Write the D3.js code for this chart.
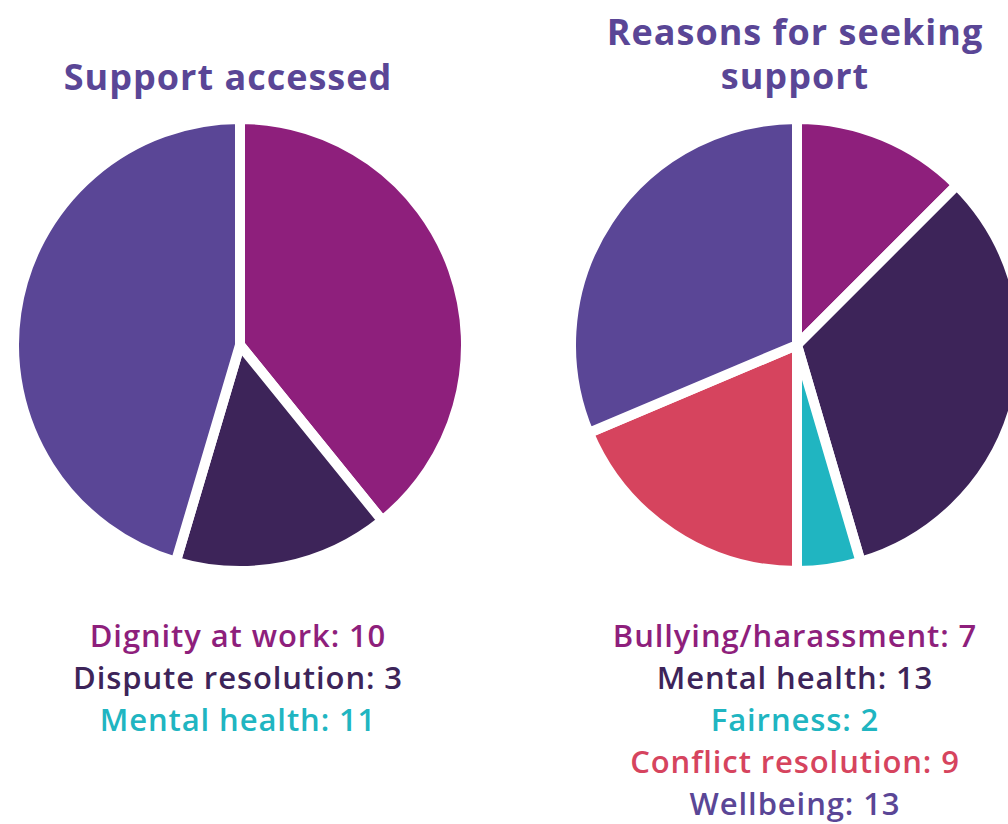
<!DOCTYPE html>
<html>
<head>
  <meta charset="UTF-8" />
  <title>Support pies</title>
  <script src="https://d3js.org/d3.v7.min.js"></script>
  <style>
    body { margin: 0; background: #fff; }
    text { font-family: "Open Sans", "Lato", sans-serif; }
  </style>
</head>
<body>
  <div id="chart"></div>
  <script>
    // left pie
    const accessedLabels = ["Dignity at work", "Dispute resolution", "Mental health"];
    const accessedValues = [10, 3, 11];
    // slice sizes as drawn in the picture (the drawn wedges don't quite follow the counts)
    const accessedSlices = [9.4, 3.7, 10.9];
    const accessedFill = ["#8E1F7C", "#3D2459", "#5A4696"];
    const accessedText = ["#8E1F7C", "#3D2459", "#20B5C1"];

    // right pie
    const reasonLabels = ["Bullying/harassment", "Mental health", "Fairness", "Conflict resolution", "Wellbeing"];
    const reasonValues = [7, 13, 2, 9, 13];
    const reasonSlices = [5.5, 14.5, 2, 8.2, 13.8];
    const reasonColors = ["#8E1F7C", "#3D2459", "#20B5C1", "#D6445E", "#5A4696"];

    const svg = d3.select("#chart")
      .append("svg")
      .attr("width", 1008)
      .attr("height", 824);

    const titleColor = "#5A4696";
    const R = 226;

    function drawPie(cx, cy, labels, values, slices, fills, textColors, titleLines, titleX, titleY, legendX, legendY) {
      const g = svg.append("g");
      const pie = d3.pie().sort(null).value(d => d);
      const arc = d3.arc().innerRadius(0).outerRadius(R);

      g.append("g")
        .attr("transform", "translate(" + cx + "," + cy + ")")
        .selectAll("path")
        .data(pie(slices))
        .enter()
        .append("path")
        .attr("d", arc)
        .attr("fill", (d, i) => fills[i])
        .attr("stroke", "#fff")
        .attr("stroke-width", 10)
        .attr("stroke-linejoin", "miter");

      g.selectAll(".title")
        .data(titleLines)
        .enter()
        .append("text")
        .attr("class", "title")
        .attr("x", titleX)
        .attr("y", (d, i) => titleY + i * 44)
        .attr("text-anchor", "middle")
        .attr("font-size", 36)
        .attr("font-weight", 700)
        .attr("letter-spacing", 1)
        .attr("fill", titleColor)
        .text(d => d);

      g.selectAll(".legend")
        .data(labels)
        .enter()
        .append("text")
        .attr("class", "legend")
        .attr("x", legendX)
        .attr("y", (d, i) => legendY + i * 42)
        .attr("text-anchor", "middle")
        .attr("font-size", 31)
        .attr("font-weight", 600)
        .attr("letter-spacing", 0.9)
        .attr("fill", (d, i) => textColors[i])
        .text((d, i) => d + ": " + values[i]);
    }

    drawPie(240, 345, accessedLabels, accessedValues, accessedSlices, accessedFill, accessedText,
      ["Support accessed"], 228, 90, 238, 647);
    drawPie(797, 345, reasonLabels, reasonValues, reasonSlices, reasonColors, reasonColors,
      ["Reasons for seeking", "support"], 795, 45, 795, 647);
  </script>
</body>
</html>
